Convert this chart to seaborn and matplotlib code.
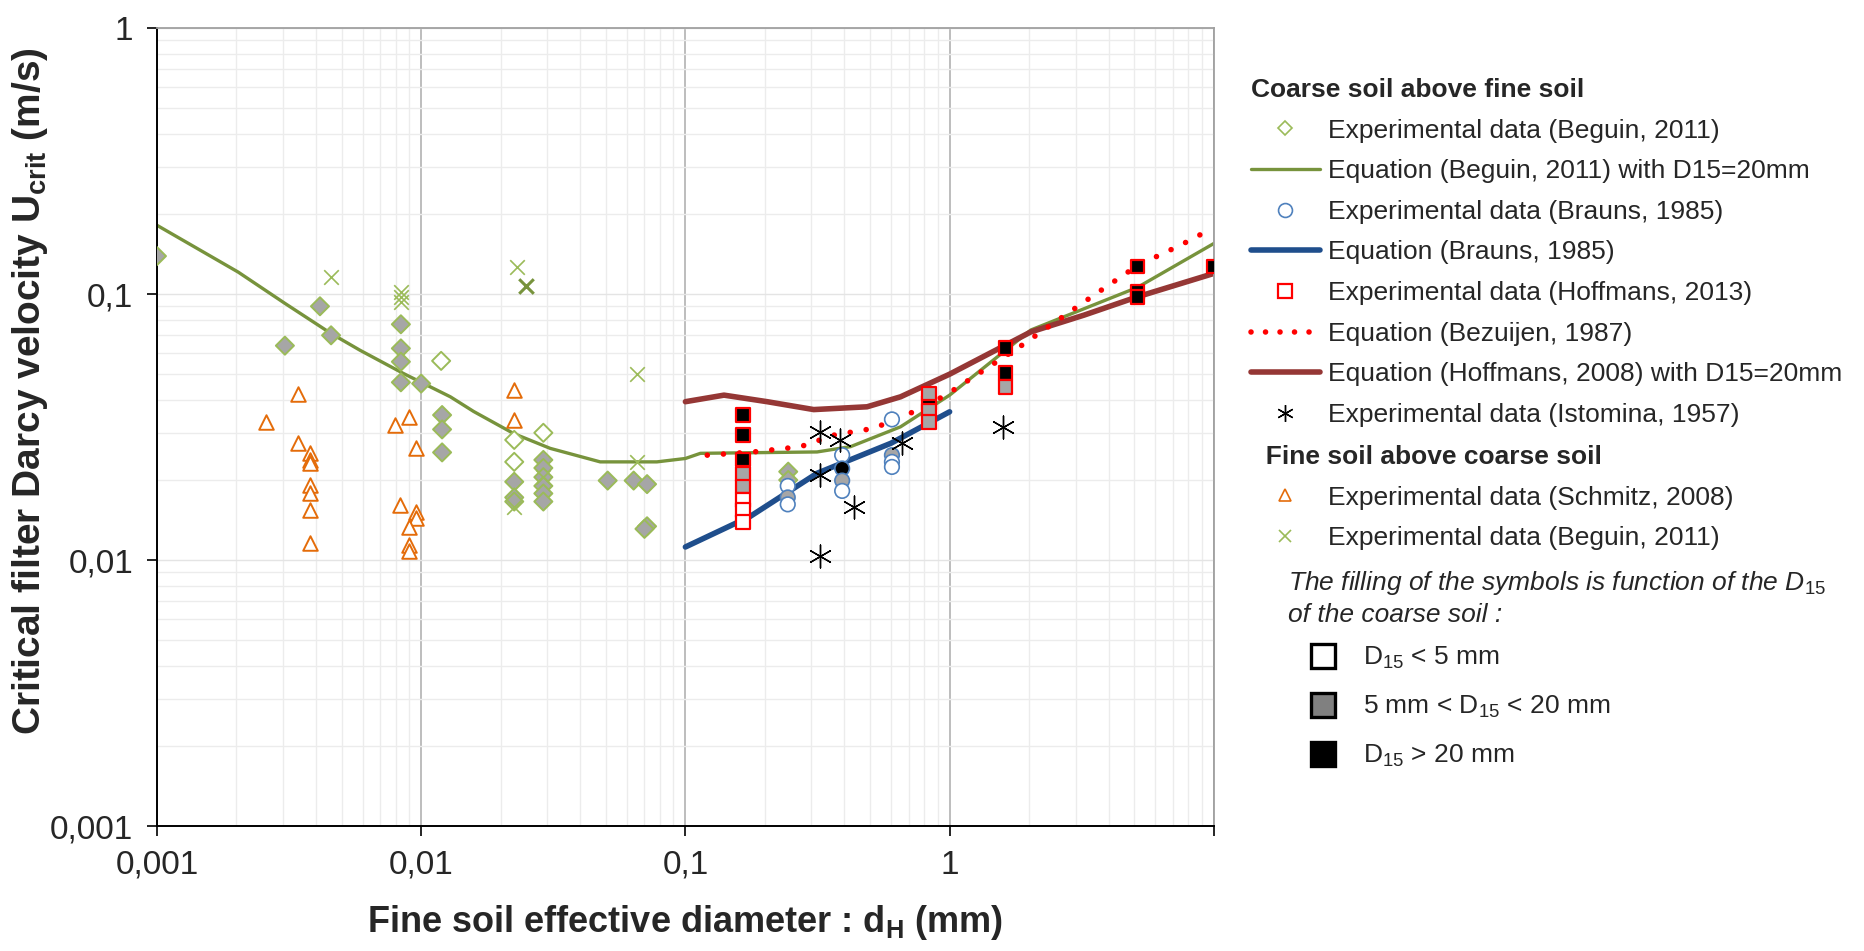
"""Critical filter Darcy velocity vs fine soil effective diameter (log-log)."""

import matplotlib
matplotlib.use("Agg")
import matplotlib.pyplot as plt
from matplotlib.lines import Line2D
from matplotlib.ticker import FixedLocator, FixedFormatter, LogLocator, NullFormatter
import pandas as pd
import seaborn as sns

# ------------------------------------------------------------------
# Data (d in mm, U in m/s)
# ------------------------------------------------------------------
beguin_exp_d = [0.001, 0.00305, 0.00414, 0.00456,
                0.00838, 0.00838, 0.00838, 0.00838, 0.01, 0.0119,
                0.0120, 0.0120, 0.0120,
                0.0225, 0.0225, 0.0225, 0.0225, 0.0225,
                0.029, 0.029, 0.029, 0.029, 0.029, 0.029, 0.029,
                0.0508, 0.0637, 0.0716, 0.0716, 0.0700, 0.245, 0.245]
beguin_exp_u = [0.139, 0.064, 0.090, 0.070,
                0.077, 0.0625, 0.0557, 0.0466, 0.0461, 0.0561,
                0.0351, 0.0310, 0.0254,
                0.0283, 0.0234, 0.0197, 0.0172, 0.0166,
                0.0301, 0.0238, 0.0222, 0.0205, 0.0190, 0.0178, 0.0166,
                0.0199, 0.0199, 0.0193, 0.0134, 0.0131, 0.0215, 0.0200]
beguin_exp_fill = ["mid", "mid", "mid", "mid",
                   "mid", "mid", "mid", "mid", "mid", "open",
                   "mid", "mid", "mid",
                   "open", "open", "mid", "mid", "mid",
                   "open", "mid", "mid", "mid", "mid", "mid", "mid",
                   "mid", "mid", "mid", "mid", "mid", "mid", "mid"]

beguin_eq_d = [0.001, 0.00203, 0.00305, 0.00456, 0.00587, 0.00857, 0.01, 0.0129, 0.0158,
               0.0224, 0.0308, 0.0476, 0.078, 0.1, 0.114, 0.315, 0.422, 0.652, 1.0,
               2.03, 5.14, 10.0]
beguin_eq_u = [0.1815, 0.121, 0.0923, 0.0711, 0.0615, 0.0503, 0.0466, 0.0411, 0.0362,
               0.0299, 0.0263, 0.0234, 0.0234, 0.0241, 0.0252, 0.0255, 0.0267, 0.0317, 0.0417,
               0.0733, 0.106, 0.155]

brauns_exp_d = [0.244, 0.244, 0.244, 0.392, 0.392, 0.392, 0.392, 0.605, 0.605, 0.605, 0.605]
brauns_exp_u = [0.0190, 0.0172, 0.0162, 0.0248, 0.0221, 0.0199, 0.0182, 0.0338, 0.0248, 0.0234, 0.0224]
brauns_exp_fill = ["open", "mid", "open", "open", "full", "mid", "open", "open", "mid", "open", "open"]

brauns_eq_d = [0.1, 0.176, 0.315, 0.6, 1.0]
brauns_eq_u = [0.0112, 0.0146, 0.0212, 0.0275, 0.0361]

hoffmans_exp_d = [0.165, 0.165, 0.165, 0.165, 0.165, 0.165, 0.165, 0.165,
                  0.836, 0.836, 0.836, 0.836, 1.63, 1.63, 1.63, 5.14, 5.14, 5.14, 10.0]
hoffmans_exp_u = [0.0351, 0.0295, 0.0239, 0.0211, 0.0189, 0.0168, 0.0154, 0.0139,
                  0.0390, 0.0423, 0.0365, 0.0330, 0.0628, 0.0506, 0.0448, 0.127, 0.102, 0.0975, 0.127]
hoffmans_exp_fill = ["full", "full", "full", "mid", "mid", "open", "open", "open",
                     "full", "mid", "mid", "mid", "full", "full", "mid", "full", "full", "full", "full"]

bezuijen_eq_d = [0.121, 0.181, 0.273, 0.365, 0.517, 0.755, 0.966, 1.35, 1.88, 2.63,
                 3.67, 5.14, 7.5, 10.0]
bezuijen_eq_u = [0.0248, 0.0255, 0.0267, 0.0295, 0.0313, 0.0366, 0.0417, 0.0518, 0.0643, 0.0811,
                 0.102, 0.128, 0.153, 0.178]

hoffmans_eq_d = [0.1, 0.14, 0.204, 0.306, 0.487, 0.652, 1.0, 2.03, 3.23, 5.14, 10.0]
hoffmans_eq_u = [0.0394, 0.0417, 0.0394, 0.0368, 0.0377, 0.0411, 0.050, 0.0721, 0.0834, 0.0977, 0.1196]

istomina_d = [0.324, 0.386, 0.324, 0.435, 0.324, 0.661, 1.59]
istomina_u = [0.0303, 0.0283, 0.0209, 0.0159, 0.0104, 0.0275, 0.0317]

schmitz_d = [0.00258, 0.00343, 0.00343, 0.0038, 0.0038, 0.0038, 0.0038, 0.0038, 0.0038, 0.0038,
             0.00798, 0.00896, 0.00958, 0.00828, 0.0096, 0.0096, 0.00896, 0.00896, 0.00896,
             0.0224, 0.0224]
schmitz_u = [0.0331, 0.0421, 0.0276, 0.0252, 0.0238, 0.0231, 0.0191, 0.0178, 0.0154, 0.0116,
             0.0322, 0.0344, 0.0263, 0.0161, 0.0152, 0.0144, 0.0133, 0.0114, 0.0108,
             0.0435, 0.0336]

beguin_fine_d = [0.00456, 0.00838, 0.00838, 0.00838, 0.0231, 0.0225, 0.0656, 0.0656, 0.029]
beguin_fine_u = [0.1156, 0.102, 0.0977, 0.0935, 0.127, 0.0158, 0.050, 0.0234, 0.0205]
beguin_fine_dark_d = [0.025]
beguin_fine_dark_u = [0.107]

x_ticks = [0.001, 0.01, 0.1, 1, 10]
x_tick_labels = ["0,001", "0,01", "0,1", "1", ""]
y_ticks = [0.001, 0.01, 0.1, 1]
y_tick_labels = ["0,001", "0,01", "0,1", "1"]

fill_labels = [r"D$_{15}$ < 5 mm", r"5 mm < D$_{15}$ < 20 mm", r"D$_{15}$ > 20 mm"]

# ------------------------------------------------------------------
# Styling
# ------------------------------------------------------------------
GREEN = "#9bbb59"
GREEN_LINE = "#77933c"
BLUE = "#4f81bd"
BLUE_LINE = "#1f4e8c"
RED = "#ff0000"
BROWN = "#953735"
ORANGE = "#e46c0a"
FILL = {"open": "white", "mid": "#a6a6a6", "full": "black"}

sns.set_style("white")
plt.rcParams["font.family"] = ["Liberation Sans", "DejaVu Sans"]
plt.rcParams["mathtext.fontset"] = "custom"
plt.rcParams["mathtext.rm"] = "Liberation Sans"
plt.rcParams["mathtext.it"] = "Liberation Sans:italic"
plt.rcParams["mathtext.bf"] = "Liberation Sans:bold"

fig = plt.figure(figsize=(18.64, 9.51), dpi=100)
ax = fig.add_axes([0.0842, 0.1314, 0.567, 0.839])
ax.set_xscale("log")
ax.set_yscale("log")

# equation curves
sns.lineplot(x=beguin_eq_d, y=beguin_eq_u, ax=ax, color=GREEN_LINE, lw=2.4,
             sort=False, estimator=None, zorder=2)
sns.lineplot(x=brauns_eq_d, y=brauns_eq_u, ax=ax, color=BLUE_LINE, lw=4.0,
             sort=False, estimator=None, zorder=2, solid_capstyle="round")
sns.lineplot(x=hoffmans_eq_d, y=hoffmans_eq_u, ax=ax, color=BROWN, lw=4.0,
             sort=False, estimator=None, zorder=2, solid_capstyle="round")
sns.lineplot(x=bezuijen_eq_d, y=bezuijen_eq_u, ax=ax, color=RED, lw=4.0,
             linestyle=(0, (0.01, 2.9)), dash_capstyle="round",
             sort=False, estimator=None, zorder=3)

# experimental data
df_beg = pd.DataFrame({"d": beguin_exp_d, "u": beguin_exp_u, "fill": beguin_exp_fill})
sns.scatterplot(data=df_beg, x="d", y="u", hue="fill", palette=FILL, marker="D", s=85,
                edgecolor=GREEN, linewidth=1.4, legend=False, ax=ax, zorder=4)

df_br = pd.DataFrame({"d": brauns_exp_d, "u": brauns_exp_u, "fill": brauns_exp_fill})
sns.scatterplot(data=df_br, x="d", y="u", hue="fill", palette=FILL, marker="o", s=110,
                edgecolor=BLUE, linewidth=1.2, legend=False, ax=ax, zorder=4)

df_hf = pd.DataFrame({"d": hoffmans_exp_d, "u": hoffmans_exp_u, "fill": hoffmans_exp_fill})
sns.scatterplot(data=df_hf, x="d", y="u", hue="fill", palette=FILL, marker="s", s=95,
                edgecolor=RED, linewidth=1.6, legend=False, ax=ax, zorder=5)

sns.scatterplot(x=istomina_d, y=istomina_u, marker=(6, 2, 0), s=270, color="black",
                linewidth=1.0, legend=False, ax=ax, zorder=5)
sns.scatterplot(x=schmitz_d, y=schmitz_u, marker="^", s=110, facecolor="white",
                edgecolor=ORANGE, linewidth=1.4, legend=False, ax=ax, zorder=4)
sns.scatterplot(x=beguin_fine_d, y=beguin_fine_u, marker="x", s=110, color=GREEN,
                linewidth=1.2, legend=False, ax=ax, zorder=4)
sns.scatterplot(x=beguin_fine_dark_d, y=beguin_fine_dark_u, marker="x", s=110, color=GREEN_LINE,
                linewidth=2.2, legend=False, ax=ax, zorder=4)

# axes
ax.set_xlim(0.001, 10)
ax.set_ylim(0.001, 1)
ax.xaxis.set_major_locator(FixedLocator(x_ticks))
ax.xaxis.set_major_formatter(FixedFormatter(x_tick_labels))
ax.yaxis.set_major_locator(FixedLocator(y_ticks))
ax.yaxis.set_major_formatter(FixedFormatter(y_tick_labels))
for axis in (ax.xaxis, ax.yaxis):
    axis.set_minor_locator(LogLocator(base=10, subs=range(2, 10), numticks=20))
    axis.set_minor_formatter(NullFormatter())

ax.set_axisbelow(True)
ax.grid(which="minor", color="#ececec", lw=1.0)
ax.xaxis.grid(True, which="major", color="#b8b8b8", lw=1.3)
ax.yaxis.grid(True, which="major", color="#e4e4e4", lw=1.0)

ax.tick_params(which="major", direction="out", length=7, width=1.2, color="black",
               labelsize=24, bottom=True, left=True)
ax.tick_params(axis="x", pad=10)
ax.tick_params(axis="y", pad=10)
ax.tick_params(which="minor", length=0)
for side in ("left", "bottom"):
    ax.spines[side].set_color("black")
    ax.spines[side].set_linewidth(1.4)
for side in ("top", "right"):
    ax.spines[side].set_color("#a0a0a0")
    ax.spines[side].set_linewidth(1.3)

ax.set_xlabel(r"Fine soil effective diameter : d$_\mathbf{H}$ (mm)", fontsize=26,
              fontweight="bold", labelpad=16)
ax.set_ylabel(r"Critical filter Darcy velocity U$_\mathbf{crit}$ (m/s)", fontsize=28,
              fontweight="bold")
ax.yaxis.set_label_coords(-0.101, 0.545)

# ------------------------------------------------------------------
# Legends
# ------------------------------------------------------------------
LEG_FS = 19


def mk(marker, face, edge, ms=8, mew=1.2):
    return Line2D([], [], ls="none", marker=marker, markersize=ms,
                  markerfacecolor=face, markeredgecolor=edge, markeredgewidth=mew)


coarse_handles = [
    mk("D", "white", GREEN, ms=7.5),
    Line2D([], [], color=GREEN_LINE, lw=2.4),
    mk("o", "white", BLUE, ms=10),
    Line2D([], [], color=BLUE_LINE, lw=4.0),
    mk("s", "white", RED, ms=9.5, mew=1.6),
    Line2D([], [], color=RED, lw=4.0, ls=(0, (0.01, 2.6)), dash_capstyle="round"),
    Line2D([], [], color=BROWN, lw=4.0),
    mk((6, 2, 0), "black", "black", ms=12, mew=1.0),
]
coarse_labels = [
    "Experimental data (Beguin, 2011)",
    "Equation (Beguin, 2011) with D15=20mm",
    "Experimental data (Brauns, 1985)",
    "Equation (Brauns, 1985)",
    "Experimental data (Hoffmans, 2013)",
    "Equation (Bezuijen, 1987)",
    "Equation (Hoffmans, 2008) with D15=20mm",
    "Experimental data (Istomina, 1957)",
]
leg_kw = dict(frameon=False, fontsize=LEG_FS, handlelength=2.6, handletextpad=0.3,
              labelspacing=0.63, borderpad=0, borderaxespad=0, loc="upper left",
              alignment="left", title_fontproperties={"weight": "bold", "size": LEG_FS})
leg1 = fig.legend(coarse_handles, coarse_labels, title="Coarse soil above fine soil",
                  bbox_to_anchor=(1251 / 1864, 1 - 78 / 951), **leg_kw)

fine_handles = [mk("^", "white", ORANGE, ms=9), mk("x", GREEN, GREEN, ms=9, mew=1.2)]
fine_labels = ["Experimental data (Schmitz, 2008)", "Experimental data (Beguin, 2011)"]
leg2 = fig.legend(fine_handles, fine_labels, title="  Fine soil above coarse soil",
                  bbox_to_anchor=(1251 / 1864, 1 - 445 / 951), **leg_kw)

fig.text(1288 / 1864, 1 - 583 / 951,
         r"The filling of the symbols is function of the $\mathit{D_{15}}$",
         fontsize=LEG_FS, style="italic", va="center", ha="left")
fig.text(1288 / 1864, 1 - 615 / 951, "of the coarse soil :",
         fontsize=LEG_FS, style="italic", va="center", ha="left")

fill_handles = [mk("s", FILL[k], "black", ms=17, mew=2.4) for k in ("open", "mid", "full")]
fill_handles[1].set_markerfacecolor("#808080")
leg3 = fig.legend(fill_handles, fill_labels, frameon=False, fontsize=LEG_FS,
                  handlelength=1.2, handletextpad=0.92, labelspacing=0.86, borderpad=0,
                  borderaxespad=0, loc="upper left",
                  bbox_to_anchor=(1307 / 1864, 1 - 645 / 951))

fig.savefig("out.png", dpi=100)
